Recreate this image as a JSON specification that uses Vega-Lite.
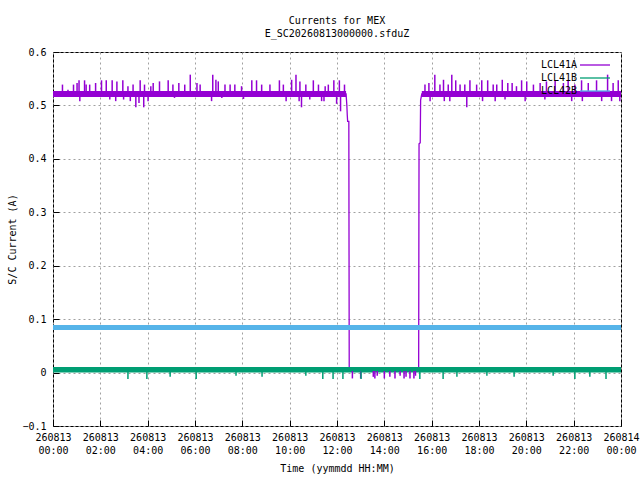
{
  "$schema": "https://vega.github.io/schema/vega-lite/v6.json",
  "width": 568,
  "height": 374,
  "autosize": "none",
  "padding": {"left": 53, "top": 52, "right": 19, "bottom": 54},
  "background": "white",
  "title": {
    "text": ["Currents for MEX", "E_SC20260813000000.sfduZ"],
    "anchor": "middle",
    "offset": 8
  },
  "datasets": {
    "path": [
      {"series": "LCL41A", "t": "2026-08-13T00:00:00Z", "v": 0.5215},
      {"series": "LCL41A", "t": "2026-08-13T12:23:00Z", "v": 0.5215},
      {"series": "LCL41A", "t": "2026-08-13T12:25:00Z", "v": 0.5},
      {"series": "LCL41A", "t": "2026-08-13T12:26:00Z", "v": 0.482},
      {"series": "LCL41A", "t": "2026-08-13T12:27:00Z", "v": 0.47},
      {"series": "LCL41A", "t": "2026-08-13T12:30:00Z", "v": 0.47},
      {"series": "LCL41A", "t": "2026-08-13T12:31:00Z", "v": 0.003},
      {"series": "LCL41A", "t": "2026-08-13T15:27:00Z", "v": 0.003},
      {"series": "LCL41A", "t": "2026-08-13T15:28:00Z", "v": 0.428},
      {"series": "LCL41A", "t": "2026-08-13T15:31:00Z", "v": 0.43},
      {"series": "LCL41A", "t": "2026-08-13T15:32:00Z", "v": 0.51},
      {"series": "LCL41A", "t": "2026-08-13T15:35:00Z", "v": 0.5215},
      {"series": "LCL41A", "t": "2026-08-14T00:00:00Z", "v": 0.5215},
      {"series": "LCL41B", "t": "2026-08-13T00:00:00Z", "v": 0.005},
      {"series": "LCL41B", "t": "2026-08-14T00:00:00Z", "v": 0.005},
      {"series": "LCL42B", "t": "2026-08-13T00:00:00Z", "v": 0.084},
      {"series": "LCL42B", "t": "2026-08-14T00:00:00Z", "v": 0.084}
    ],
    "band": [
      {"series": "LCL41A", "seg": 1, "t": "2026-08-13T00:00:00Z", "lo": 0.516, "hi": 0.527},
      {"series": "LCL41A", "seg": 1, "t": "2026-08-13T12:23:00Z", "lo": 0.516, "hi": 0.527},
      {"series": "LCL41A", "seg": 2, "t": "2026-08-13T15:35:00Z", "lo": 0.516, "hi": 0.527},
      {"series": "LCL41A", "seg": 2, "t": "2026-08-14T00:00:00Z", "lo": 0.516, "hi": 0.527},
      {"series": "LCL41B", "seg": 1, "t": "2026-08-13T00:00:00Z", "lo": 0.0, "hi": 0.0105},
      {"series": "LCL41B", "seg": 1, "t": "2026-08-14T00:00:00Z", "lo": 0.0, "hi": 0.0105},
      {"series": "LCL42B", "seg": 1, "t": "2026-08-13T00:00:00Z", "lo": 0.0795, "hi": 0.089},
      {"series": "LCL42B", "seg": 1, "t": "2026-08-14T00:00:00Z", "lo": 0.0795, "hi": 0.089}
    ],
    "spikes": [
      {"series": "LCL41A", "t": "2026-08-13T00:24:00Z", "v": 0.539, "base": 0.5215},
      {"series": "LCL41A", "t": "2026-08-13T00:38:00Z", "v": 0.5295, "base": 0.5215},
      {"series": "LCL41A", "t": "2026-08-13T00:52:00Z", "v": 0.539, "base": 0.5215},
      {"series": "LCL41A", "t": "2026-08-13T01:01:00Z", "v": 0.542, "base": 0.5215},
      {"series": "LCL41A", "t": "2026-08-13T01:06:00Z", "v": 0.547, "base": 0.5215},
      {"series": "LCL41A", "t": "2026-08-13T01:08:00Z", "v": 0.508, "base": 0.5215},
      {"series": "LCL41A", "t": "2026-08-13T01:20:00Z", "v": 0.547, "base": 0.5215},
      {"series": "LCL41A", "t": "2026-08-13T01:24:00Z", "v": 0.539, "base": 0.5215},
      {"series": "LCL41A", "t": "2026-08-13T01:33:00Z", "v": 0.539, "base": 0.5215},
      {"series": "LCL41A", "t": "2026-08-13T01:48:00Z", "v": 0.542, "base": 0.5215},
      {"series": "LCL41A", "t": "2026-08-13T02:03:00Z", "v": 0.547, "base": 0.5215},
      {"series": "LCL41A", "t": "2026-08-13T02:15:00Z", "v": 0.547, "base": 0.5215},
      {"series": "LCL41A", "t": "2026-08-13T02:24:00Z", "v": 0.511, "base": 0.5215},
      {"series": "LCL41A", "t": "2026-08-13T02:30:00Z", "v": 0.547, "base": 0.5215},
      {"series": "LCL41A", "t": "2026-08-13T02:39:00Z", "v": 0.508, "base": 0.5215},
      {"series": "LCL41A", "t": "2026-08-13T02:42:00Z", "v": 0.545, "base": 0.5215},
      {"series": "LCL41A", "t": "2026-08-13T02:57:00Z", "v": 0.547, "base": 0.5215},
      {"series": "LCL41A", "t": "2026-08-13T02:59:00Z", "v": 0.511, "base": 0.5215},
      {"series": "LCL41A", "t": "2026-08-13T03:10:00Z", "v": 0.536, "base": 0.5215},
      {"series": "LCL41A", "t": "2026-08-13T03:16:00Z", "v": 0.508, "base": 0.5215},
      {"series": "LCL41A", "t": "2026-08-13T03:23:00Z", "v": 0.539, "base": 0.5215},
      {"series": "LCL41A", "t": "2026-08-13T03:30:00Z", "v": 0.4965, "base": 0.5215},
      {"series": "LCL41A", "t": "2026-08-13T03:38:00Z", "v": 0.5046, "base": 0.5215},
      {"series": "LCL41A", "t": "2026-08-13T03:41:00Z", "v": 0.547, "base": 0.5215},
      {"series": "LCL41A", "t": "2026-08-13T03:50:00Z", "v": 0.4965, "base": 0.5215},
      {"series": "LCL41A", "t": "2026-08-13T03:52:00Z", "v": 0.539, "base": 0.5215},
      {"series": "LCL41A", "t": "2026-08-13T04:01:00Z", "v": 0.508, "base": 0.5215},
      {"series": "LCL41A", "t": "2026-08-13T04:08:00Z", "v": 0.536, "base": 0.5215},
      {"series": "LCL41A", "t": "2026-08-13T04:14:00Z", "v": 0.542, "base": 0.5215},
      {"series": "LCL41A", "t": "2026-08-13T04:30:00Z", "v": 0.545, "base": 0.5215},
      {"series": "LCL41A", "t": "2026-08-13T04:52:00Z", "v": 0.547, "base": 0.5215},
      {"series": "LCL41A", "t": "2026-08-13T05:04:00Z", "v": 0.539, "base": 0.5215},
      {"series": "LCL41A", "t": "2026-08-13T05:08:00Z", "v": 0.514, "base": 0.5215},
      {"series": "LCL41A", "t": "2026-08-13T05:19:00Z", "v": 0.542, "base": 0.5215},
      {"series": "LCL41A", "t": "2026-08-13T05:34:00Z", "v": 0.539, "base": 0.5215},
      {"series": "LCL41A", "t": "2026-08-13T05:48:00Z", "v": 0.5576, "base": 0.5215},
      {"series": "LCL41A", "t": "2026-08-13T06:05:00Z", "v": 0.542, "base": 0.5215},
      {"series": "LCL41A", "t": "2026-08-13T06:13:00Z", "v": 0.539, "base": 0.5215},
      {"series": "LCL41A", "t": "2026-08-13T06:42:00Z", "v": 0.508, "base": 0.5215},
      {"series": "LCL41A", "t": "2026-08-13T06:45:00Z", "v": 0.5576, "base": 0.5215},
      {"series": "LCL41A", "t": "2026-08-13T06:53:00Z", "v": 0.548, "base": 0.5215},
      {"series": "LCL41A", "t": "2026-08-13T06:59:00Z", "v": 0.545, "base": 0.5215},
      {"series": "LCL41A", "t": "2026-08-13T07:08:00Z", "v": 0.514, "base": 0.5215},
      {"series": "LCL41A", "t": "2026-08-13T07:16:00Z", "v": 0.539, "base": 0.5215},
      {"series": "LCL41A", "t": "2026-08-13T07:29:00Z", "v": 0.539, "base": 0.5215},
      {"series": "LCL41A", "t": "2026-08-13T07:41:00Z", "v": 0.539, "base": 0.5215},
      {"series": "LCL41A", "t": "2026-08-13T07:58:00Z", "v": 0.536, "base": 0.5215},
      {"series": "LCL41A", "t": "2026-08-13T08:03:00Z", "v": 0.512, "base": 0.5215},
      {"series": "LCL41A", "t": "2026-08-13T08:24:00Z", "v": 0.547, "base": 0.5215},
      {"series": "LCL41A", "t": "2026-08-13T08:36:00Z", "v": 0.547, "base": 0.5215},
      {"series": "LCL41A", "t": "2026-08-13T08:49:00Z", "v": 0.539, "base": 0.5215},
      {"series": "LCL41A", "t": "2026-08-13T09:10:00Z", "v": 0.539, "base": 0.5215},
      {"series": "LCL41A", "t": "2026-08-13T09:34:00Z", "v": 0.547, "base": 0.5215},
      {"series": "LCL41A", "t": "2026-08-13T09:44:00Z", "v": 0.539, "base": 0.5215},
      {"series": "LCL41A", "t": "2026-08-13T09:51:00Z", "v": 0.508, "base": 0.5215},
      {"series": "LCL41A", "t": "2026-08-13T10:05:00Z", "v": 0.548, "base": 0.5215},
      {"series": "LCL41A", "t": "2026-08-13T10:16:00Z", "v": 0.5576, "base": 0.5215},
      {"series": "LCL41A", "t": "2026-08-13T10:24:00Z", "v": 0.508, "base": 0.5215},
      {"series": "LCL41A", "t": "2026-08-13T10:26:00Z", "v": 0.545, "base": 0.5215},
      {"series": "LCL41A", "t": "2026-08-13T10:30:00Z", "v": 0.4965, "base": 0.5215},
      {"series": "LCL41A", "t": "2026-08-13T10:41:00Z", "v": 0.539, "base": 0.5215},
      {"series": "LCL41A", "t": "2026-08-13T10:51:00Z", "v": 0.511, "base": 0.5215},
      {"series": "LCL41A", "t": "2026-08-13T11:00:00Z", "v": 0.547, "base": 0.5215},
      {"series": "LCL41A", "t": "2026-08-13T11:13:00Z", "v": 0.539, "base": 0.5215},
      {"series": "LCL41A", "t": "2026-08-13T11:21:00Z", "v": 0.508, "base": 0.5215},
      {"series": "LCL41A", "t": "2026-08-13T11:27:00Z", "v": 0.508, "base": 0.5215},
      {"series": "LCL41A", "t": "2026-08-13T11:30:00Z", "v": 0.536, "base": 0.5215},
      {"series": "LCL41A", "t": "2026-08-13T11:38:00Z", "v": 0.539, "base": 0.5215},
      {"series": "LCL41A", "t": "2026-08-13T11:52:00Z", "v": 0.547, "base": 0.5215},
      {"series": "LCL41A", "t": "2026-08-13T11:59:00Z", "v": 0.503, "base": 0.5215},
      {"series": "LCL41A", "t": "2026-08-13T12:06:00Z", "v": 0.547, "base": 0.5215},
      {"series": "LCL41A", "t": "2026-08-13T12:09:00Z", "v": 0.489, "base": 0.5215},
      {"series": "LCL41A", "t": "2026-08-13T12:19:00Z", "v": 0.539, "base": 0.5215},
      {"series": "LCL41A", "t": "2026-08-13T12:39:00Z", "v": -0.011, "base": 0.003},
      {"series": "LCL41A", "t": "2026-08-13T13:00:00Z", "v": -0.011, "base": 0.003},
      {"series": "LCL41A", "t": "2026-08-13T13:32:00Z", "v": -0.008, "base": 0.003},
      {"series": "LCL41A", "t": "2026-08-13T13:36:00Z", "v": -0.011, "base": 0.003},
      {"series": "LCL41A", "t": "2026-08-13T13:42:00Z", "v": -0.006, "base": 0.003},
      {"series": "LCL41A", "t": "2026-08-13T14:00:00Z", "v": -0.011, "base": 0.003},
      {"series": "LCL41A", "t": "2026-08-13T14:14:00Z", "v": -0.008, "base": 0.003},
      {"series": "LCL41A", "t": "2026-08-13T14:27:00Z", "v": -0.011, "base": 0.003},
      {"series": "LCL41A", "t": "2026-08-13T14:40:00Z", "v": -0.006, "base": 0.003},
      {"series": "LCL41A", "t": "2026-08-13T14:50:00Z", "v": -0.011, "base": 0.003},
      {"series": "LCL41A", "t": "2026-08-13T14:55:00Z", "v": -0.008, "base": 0.003},
      {"series": "LCL41A", "t": "2026-08-13T15:05:00Z", "v": -0.011, "base": 0.003},
      {"series": "LCL41A", "t": "2026-08-13T15:15:00Z", "v": -0.011, "base": 0.003},
      {"series": "LCL41A", "t": "2026-08-13T15:19:00Z", "v": -0.006, "base": 0.003},
      {"series": "LCL41A", "t": "2026-08-13T15:43:00Z", "v": 0.539, "base": 0.5215},
      {"series": "LCL41A", "t": "2026-08-13T15:53:00Z", "v": 0.542, "base": 0.5215},
      {"series": "LCL41A", "t": "2026-08-13T15:56:00Z", "v": 0.508, "base": 0.5215},
      {"series": "LCL41A", "t": "2026-08-13T16:08:00Z", "v": 0.5576, "base": 0.5215},
      {"series": "LCL41A", "t": "2026-08-13T16:21:00Z", "v": 0.539, "base": 0.5215},
      {"series": "LCL41A", "t": "2026-08-13T16:30:00Z", "v": 0.548, "base": 0.5215},
      {"series": "LCL41A", "t": "2026-08-13T16:32:00Z", "v": 0.508, "base": 0.5215},
      {"series": "LCL41A", "t": "2026-08-13T16:42:00Z", "v": 0.539, "base": 0.5215},
      {"series": "LCL41A", "t": "2026-08-13T16:46:00Z", "v": 0.508, "base": 0.5215},
      {"series": "LCL41A", "t": "2026-08-13T16:51:00Z", "v": 0.5576, "base": 0.5215},
      {"series": "LCL41A", "t": "2026-08-13T17:01:00Z", "v": 0.547, "base": 0.5215},
      {"series": "LCL41A", "t": "2026-08-13T17:12:00Z", "v": 0.539, "base": 0.5215},
      {"series": "LCL41A", "t": "2026-08-13T17:24:00Z", "v": 0.539, "base": 0.5215},
      {"series": "LCL41A", "t": "2026-08-13T17:29:00Z", "v": 0.4965, "base": 0.5215},
      {"series": "LCL41A", "t": "2026-08-13T17:37:00Z", "v": 0.547, "base": 0.5215},
      {"series": "LCL41A", "t": "2026-08-13T17:54:00Z", "v": 0.539, "base": 0.5215},
      {"series": "LCL41A", "t": "2026-08-13T18:07:00Z", "v": 0.547, "base": 0.5215},
      {"series": "LCL41A", "t": "2026-08-13T18:09:00Z", "v": 0.508, "base": 0.5215},
      {"series": "LCL41A", "t": "2026-08-13T18:22:00Z", "v": 0.547, "base": 0.5215},
      {"series": "LCL41A", "t": "2026-08-13T18:36:00Z", "v": 0.539, "base": 0.5215},
      {"series": "LCL41A", "t": "2026-08-13T18:41:00Z", "v": 0.508, "base": 0.5215},
      {"series": "LCL41A", "t": "2026-08-13T18:45:00Z", "v": 0.539, "base": 0.5215},
      {"series": "LCL41A", "t": "2026-08-13T18:59:00Z", "v": 0.548, "base": 0.5215},
      {"series": "LCL41A", "t": "2026-08-13T19:06:00Z", "v": 0.511, "base": 0.5215},
      {"series": "LCL41A", "t": "2026-08-13T19:13:00Z", "v": 0.542, "base": 0.5215},
      {"series": "LCL41A", "t": "2026-08-13T19:24:00Z", "v": 0.542, "base": 0.5215},
      {"series": "LCL41A", "t": "2026-08-13T19:35:00Z", "v": 0.536, "base": 0.5215},
      {"series": "LCL41A", "t": "2026-08-13T19:48:00Z", "v": 0.547, "base": 0.5215},
      {"series": "LCL41A", "t": "2026-08-13T19:57:00Z", "v": 0.508, "base": 0.5215},
      {"series": "LCL41A", "t": "2026-08-13T20:01:00Z", "v": 0.545, "base": 0.5215},
      {"series": "LCL41A", "t": "2026-08-13T20:18:00Z", "v": 0.539, "base": 0.5215},
      {"series": "LCL41A", "t": "2026-08-13T20:35:00Z", "v": 0.542, "base": 0.5215},
      {"series": "LCL41A", "t": "2026-08-13T20:47:00Z", "v": 0.511, "base": 0.5215},
      {"series": "LCL41A", "t": "2026-08-13T20:51:00Z", "v": 0.545, "base": 0.5215},
      {"series": "LCL41A", "t": "2026-08-13T21:13:00Z", "v": 0.547, "base": 0.5215},
      {"series": "LCL41A", "t": "2026-08-13T21:34:00Z", "v": 0.542, "base": 0.5215},
      {"series": "LCL41A", "t": "2026-08-13T21:46:00Z", "v": 0.547, "base": 0.5215},
      {"series": "LCL41A", "t": "2026-08-13T21:55:00Z", "v": 0.508, "base": 0.5215},
      {"series": "LCL41A", "t": "2026-08-13T22:03:00Z", "v": 0.539, "base": 0.5215},
      {"series": "LCL41A", "t": "2026-08-13T22:20:00Z", "v": 0.547, "base": 0.5215},
      {"series": "LCL41A", "t": "2026-08-13T22:22:00Z", "v": 0.508, "base": 0.5215},
      {"series": "LCL41A", "t": "2026-08-13T22:37:00Z", "v": 0.542, "base": 0.5215},
      {"series": "LCL41A", "t": "2026-08-13T22:58:00Z", "v": 0.547, "base": 0.5215},
      {"series": "LCL41A", "t": "2026-08-13T23:11:00Z", "v": 0.508, "base": 0.5215},
      {"series": "LCL41A", "t": "2026-08-13T23:26:00Z", "v": 0.5576, "base": 0.5215},
      {"series": "LCL41A", "t": "2026-08-13T23:36:00Z", "v": 0.508, "base": 0.5215},
      {"series": "LCL41A", "t": "2026-08-13T23:40:00Z", "v": 0.542, "base": 0.5215},
      {"series": "LCL41A", "t": "2026-08-13T23:53:00Z", "v": 0.547, "base": 0.5215},
      {"series": "LCL41A", "t": "2026-08-13T23:57:00Z", "v": 0.508, "base": 0.5215},
      {"series": "LCL41B", "t": "2026-08-13T03:10:00Z", "v": -0.012, "base": 0.005},
      {"series": "LCL41B", "t": "2026-08-13T03:58:00Z", "v": -0.012, "base": 0.005},
      {"series": "LCL41B", "t": "2026-08-13T04:57:00Z", "v": -0.008, "base": 0.005},
      {"series": "LCL41B", "t": "2026-08-13T06:03:00Z", "v": -0.012, "base": 0.005},
      {"series": "LCL41B", "t": "2026-08-13T07:44:00Z", "v": -0.006, "base": 0.005},
      {"series": "LCL41B", "t": "2026-08-13T08:50:00Z", "v": -0.008, "base": 0.005},
      {"series": "LCL41B", "t": "2026-08-13T10:41:00Z", "v": -0.006, "base": 0.005},
      {"series": "LCL41B", "t": "2026-08-13T11:24:00Z", "v": -0.012, "base": 0.005},
      {"series": "LCL41B", "t": "2026-08-13T11:50:00Z", "v": -0.012, "base": 0.005},
      {"series": "LCL41B", "t": "2026-08-13T12:15:00Z", "v": -0.012, "base": 0.005},
      {"series": "LCL41B", "t": "2026-08-13T13:01:00Z", "v": -0.012, "base": 0.005},
      {"series": "LCL41B", "t": "2026-08-13T15:30:00Z", "v": -0.012, "base": 0.005},
      {"series": "LCL41B", "t": "2026-08-13T16:29:00Z", "v": -0.012, "base": 0.005},
      {"series": "LCL41B", "t": "2026-08-13T17:04:00Z", "v": -0.008, "base": 0.005},
      {"series": "LCL41B", "t": "2026-08-13T18:20:00Z", "v": -0.006, "base": 0.005},
      {"series": "LCL41B", "t": "2026-08-13T19:29:00Z", "v": -0.008, "base": 0.005},
      {"series": "LCL41B", "t": "2026-08-13T21:08:00Z", "v": -0.006, "base": 0.005},
      {"series": "LCL41B", "t": "2026-08-13T22:03:00Z", "v": -0.012, "base": 0.005},
      {"series": "LCL41B", "t": "2026-08-13T22:41:00Z", "v": -0.008, "base": 0.005},
      {"series": "LCL41B", "t": "2026-08-13T23:22:00Z", "v": -0.012, "base": 0.005}
    ]
  },
  "layer": [
    {
      "data": {"name": "path"},
      "mark": {"type": "line", "strokeWidth": 1.3},
      "encoding": {
        "x": {"field": "t", "type": "temporal"},
        "y": {"field": "v", "type": "quantitative"},
        "color": {"field": "series", "type": "nominal"}
      }
    },
    {
      "data": {"name": "band"},
      "mark": {"type": "area"},
      "encoding": {
        "x": {"field": "t", "type": "temporal"},
        "y": {"field": "lo", "type": "quantitative"},
        "y2": {"field": "hi"},
        "detail": {"field": "seg", "type": "nominal"},
        "color": {"field": "series", "type": "nominal"}
      }
    },
    {
      "data": {"name": "spikes"},
      "mark": {"type": "rule", "strokeWidth": 1.5},
      "encoding": {
        "x": {"field": "t", "type": "temporal"},
        "y": {"field": "v", "type": "quantitative"},
        "y2": {"field": "base"},
        "color": {"field": "series", "type": "nominal"}
      }
    }
  ],
  "encoding": {
    "x": {
      "field": "t", "type": "temporal",
      "scale": {"domain": [1786579200000, 1786665600000]},
      "axis": {
        "orient": "bottom",
        "values": [1786579200000, 1786586400000, 1786593600000, 1786600800000, 1786608000000, 1786615200000, 1786622400000, 1786629600000, 1786636800000, 1786644000000, 1786651200000, 1786658400000, 1786665600000],
        "labelExpr": "[utcFormat(datum.value, '%y%m%d'), utcFormat(datum.value, '%H:%M')]",
        "labelLineHeight": 13,
        "labelOverlap": false,
        "labelFlush": false,
        "labelPadding": 12,
        "title": "Time (yymmdd HH:MM)",
        "titlePadding": 8,
        "grid": true
      }
    },
    "y": {
      "field": "v", "type": "quantitative",
      "scale": {"domain": [-0.1, 0.6], "nice": false, "zero": false},
      "axis": {
        "orient": "left",
        "values": [-0.1, 0, 0.1, 0.2, 0.3, 0.4, 0.5, 0.6],
        "format": ".1~f",
        "labelPadding": 13,
        "title": "S/C Current (A)",
        "grid": true
      }
    },
    "color": {"field": "series", "type": "nominal", "scale": {"domain": ["LCL41A", "LCL41B", "LCL42B"], "range": ["#9400d3", "#009e73", "#56b4e9"]}, "title": null}
  },
  "config": {
    "font": "DejaVu Sans Mono",
    "view": {"stroke": "black", "strokeWidth": 1},
    "title": {"font": "DejaVu Sans Mono", "fontSize": 10, "fontWeight": "normal", "color": "black", "lineHeight": 13},
    "axis": {
      "labelFont": "DejaVu Sans Mono", "labelFontSize": 10, "labelColor": "black",
      "titleFont": "DejaVu Sans Mono", "titleFontSize": 10, "titleFontWeight": "normal", "titleColor": "black",
      "domain": false, "tickColor": "black", "tickSize": -6,
      "gridColor": "#a0a0a0", "gridDash": [2, 3], "gridWidth": 1
    },
    "legend": {
      "orient": "top-right", "offset": 8, "padding": 0,
      "labelFont": "DejaVu Sans Mono", "labelFontSize": 10, "labelColor": "black",
      "symbolType": "M-6,0H6", "symbolSize": 25, "symbolStrokeWidth": 1.3,
      "labelAlign": "right", "labelOffset": -23, "rowPadding": 3
    }
  }
}
